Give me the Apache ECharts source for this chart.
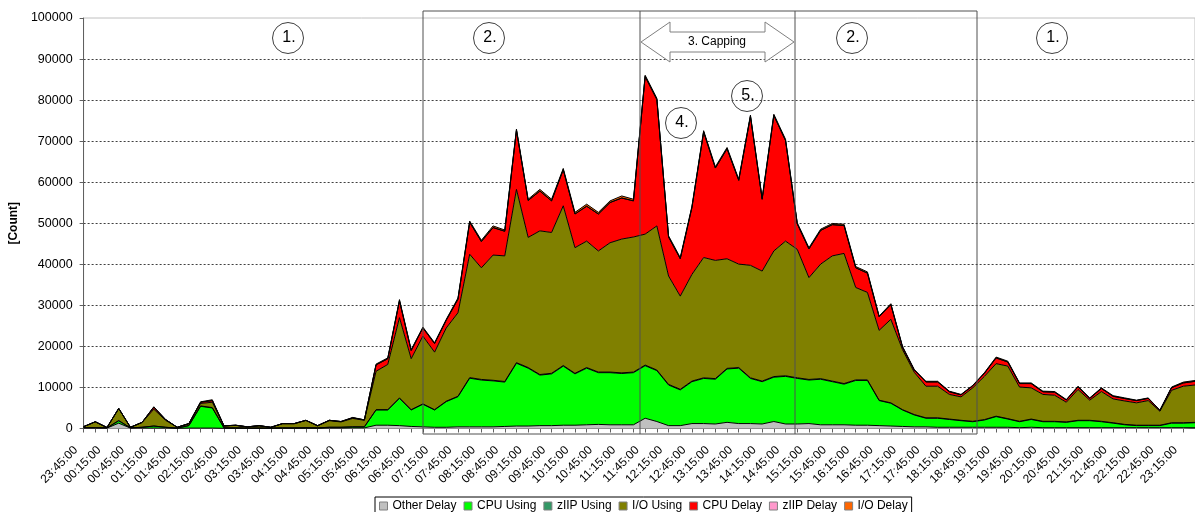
<!DOCTYPE html>
<html>
<head>
<meta charset="utf-8">
<script src="https://cdn.jsdelivr.net/npm/echarts@6.0.0/dist/echarts.min.js"></script>
<style>
  html, body { margin: 0; padding: 0; background: #fff; }
  #main { width: 1195px; height: 512px; }
</style>
</head>
<body>
<div id="main"></div>
<script>
var times = [
  '23:45:00','00:00:00','00:15:00','00:30:00','00:45:00','01:00:00','01:15:00','01:30:00','01:45:00','02:00:00','02:15:00','02:30:00',
  '02:45:00','03:00:00','03:15:00','03:30:00','03:45:00','04:00:00','04:15:00','04:30:00','04:45:00','05:00:00','05:15:00','05:30:00',
  '05:45:00','06:00:00','06:15:00','06:30:00','06:45:00','07:00:00','07:15:00','07:30:00','07:45:00','08:00:00','08:15:00','08:30:00',
  '08:45:00','09:00:00','09:15:00','09:30:00','09:45:00','10:00:00','10:15:00','10:30:00','10:45:00','11:00:00','11:15:00','11:30:00',
  '11:45:00','12:00:00','12:15:00','12:30:00','12:45:00','13:00:00','13:15:00','13:30:00','13:45:00','14:00:00','14:15:00','14:30:00',
  '14:45:00','15:00:00','15:15:00','15:30:00','15:45:00','16:00:00','16:15:00','16:30:00','16:45:00','17:00:00','17:15:00','17:30:00',
  '17:45:00','18:00:00','18:15:00','18:30:00','18:45:00','19:00:00','19:15:00','19:30:00','19:45:00','20:00:00','20:15:00','20:30:00',
  '20:45:00','21:00:00','21:15:00','21:30:00','21:45:00','22:00:00','22:15:00','22:30:00','22:45:00','23:00:00','23:15:00','23:30:00'
];

var otherDelay = [
  100,100,100,1300,100,100,100,100,50,100,100,100,
  50,50,50,50,50,50,50,50,50,100,100,150,
  150,800,800,700,500,400,300,300,400,400,400,400,
  500,600,600,700,700,800,800,900,1000,900,900,900,
  2500,1700,700,700,1200,1200,1100,1500,1200,1200,1100,1700,
  1100,1100,1200,900,900,900,800,800,700,600,500,400,
  400,300,300,300,300,300,300,300,200,300,200,200,
  200,200,200,200,200,200,200,200,200,200,200,200
];
var cpuUsing = [
  100,100,50,550,50,200,500,200,50,600,5300,4900,
  100,100,50,50,50,100,100,150,100,200,200,250,
  250,3700,3700,6650,4000,5500,4200,6250,7350,11850,11400,11200,
  10800,15300,14100,12300,12600,14400,12500,13800,12600,12700,12500,12700,
  12800,12400,9900,8700,10200,11000,10900,13000,13500,11000,10300,10800,
  11600,11100,10600,11100,10500,9900,10900,10900,6100,5550,4000,2900,
  2100,2200,1900,1600,1350,1770,2600,2000,1450,1900,1450,1450,
  1300,1700,1700,1450,1100,700,500,500,500,1100,1100,1200
];
var ziipUsing = [
  0,0,0,100,0,0,0,0,0,0,100,100,
  0,0,0,0,0,0,0,0,0,0,0,0,
  0,100,100,100,100,100,100,100,100,150,150,150,
  150,150,150,150,150,150,150,150,150,150,150,150,
  150,150,150,150,150,150,150,150,150,150,150,150,
  150,150,150,150,150,150,150,150,100,100,100,100,
  100,100,100,100,100,100,100,100,100,100,100,100,
  100,100,100,100,100,100,100,100,100,100,100,100
];
var ioUsing = [
  250,1400,100,2900,150,1150,4100,1700,200,450,600,1300,
  450,600,300,550,200,1000,1000,1750,500,1600,1300,2050,
  1600,9350,11000,19550,12400,16500,14000,17850,20350,30050,27200,30500,
  30600,42200,31700,35000,34300,38900,30600,30800,29500,31500,32600,32900,
  31900,35100,26400,22700,26000,29300,28800,26700,25200,27400,26800,30600,
  32800,31300,24800,27900,30500,31700,22500,21300,17000,20350,14600,10300,
  7700,7700,6000,5700,8150,10530,12800,12800,8350,7600,6550,6350,
  4800,7500,4900,7250,5800,5700,5450,6000,3400,7900,8900,9100
];
var cpuDelay = [
  0,50,0,50,0,50,500,200,0,50,300,400,
  50,50,0,50,0,50,50,50,50,100,100,150,
  100,1550,1400,4100,2000,2000,2100,1900,3300,7800,6400,6700,
  6000,14400,9000,9700,7700,8800,8200,8500,9000,9800,10000,8800,
  38400,30800,9500,9100,16300,30600,22500,26800,20400,36300,17500,33000,
  24500,6200,7000,8200,7600,6800,4800,4700,3300,3600,600,550,
  1050,1050,650,500,500,750,1400,1000,850,1050,650,750,
  550,650,450,750,650,600,550,550,200,650,800,900
];
var ziipDelay = [
  0,0,0,0,0,0,0,0,0,0,0,0,
  0,0,0,0,0,0,0,0,0,0,0,0,
  0,0,0,0,0,0,0,0,0,0,0,0,
  0,0,0,0,0,0,0,0,0,0,0,0,
  0,0,0,0,0,0,0,0,0,0,0,0,
  0,0,0,0,0,0,0,0,0,0,0,0,
  0,0,0,0,0,0,0,0,0,0,0,0,
  0,0,0,0,0,0,0,0,0,0,0,0
];
var ioDelay = [
  0,0,0,0,0,0,100,0,0,0,100,200,
  0,0,0,0,0,0,0,0,0,0,0,100,
  0,200,200,300,200,200,200,200,300,300,300,400,
  300,300,300,400,400,300,400,500,400,400,500,400,
  300,300,300,300,300,300,300,300,300,300,300,300,
  300,300,300,300,300,300,300,300,200,200,200,150,
  150,150,150,100,100,150,200,200,150,150,150,150,
  100,150,100,150,150,150,100,100,50,150,200,200
];

var seriesDefs = [
  { name: 'Other Delay', color: '#C0C0C0', data: otherDelay },
  { name: 'CPU Using',   color: '#00FF00', data: cpuUsing },
  { name: 'zIIP Using',  color: '#339966', data: ziipUsing },
  { name: 'I/O Using',   color: '#808000', data: ioUsing },
  { name: 'CPU Delay',   color: '#FF0000', data: cpuDelay },
  { name: 'zIIP Delay',  color: '#FF99CC', data: ziipDelay },
  { name: 'I/O Delay',   color: '#FF6600', data: ioDelay }
];

var font = 'Liberation Sans, Arial, sans-serif';
var myChart = echarts.init(document.getElementById('main'));

// numbered circles drawn on the chart
function marker(cx, cy, label) {
  return {
    type: 'group',
    z: 100,
    children: [
      { type: 'circle', shape: { cx: cx, cy: cy, r: 15.5 },
        style: { fill: '#fff', stroke: '#404040', lineWidth: 1 } },
      { type: 'text', x: cx + 1, y: cy,
        style: { text: label, fontSize: 16, fontFamily: font, fill: '#000',
                 align: 'center', verticalAlign: 'middle' } }
    ]
  };
}

option = {
    animation: false,
    backgroundColor: '#fff',
    grid: {
        left: 82,
        top: 18,
        width: 1121,
        height: 410.5,
        show: true,
        borderColor: '#c0c0c0',
        borderWidth: 1
    },
    legend: {
        data: seriesDefs.map(function (s) { return s.name; }),
        left: 375,
        top: 497,
        icon: 'rect',
        itemWidth: 8,
        itemHeight: 8,
        itemGap: 7,
        padding: [3, 4, 8, 4],
        borderColor: '#000',
        borderWidth: 1,
        textStyle: { fontSize: 12, fontFamily: font, color: '#000' },
        itemStyle: { borderColor: '#808080', borderWidth: 1 }
    },
    xAxis: {
        type: 'category',
        boundaryGap: false,
        data: times,
        axisLine: { lineStyle: { color: '#606060', width: 1 } },
        axisTick: { interval: 0, length: 4, lineStyle: { color: '#606060' } },
        axisLabel: {
            interval: 1,
            rotate: 45,
            margin: 12,
            padding: [0, 11, 0, 0],
            fontSize: 12,
            fontFamily: font,
            color: '#000'
        },
        splitLine: { show: false }
    },
    yAxis: {
        type: 'value',
        min: 0,
        max: 100000,
        interval: 10000,
        name: '[Count]',
        nameLocation: 'middle',
        nameRotate: 90,
        nameGap: 57,
        nameTextStyle: { fontSize: 12, fontWeight: 'bold', fontFamily: font, color: '#000' },
        axisLine: { show: true, lineStyle: { color: '#606060', width: 1 } },
        axisTick: { show: true, length: 4, lineStyle: { color: '#606060' } },
        axisLabel: {
            fontSize: 12.5, fontFamily: font, color: '#000', margin: 11,
            formatter: function (v) { return String(v); }
        },
        splitLine: {
            show: true,
            showMinLine: false,
            showMaxLine: false,
            lineStyle: { color: '#404040', type: [2, 2], width: 1 }
        }
    },
    series: seriesDefs.map(function (s) {
        return {
            name: s.name,
            type: 'line',
            stack: 'total',
            data: s.data,
            symbol: 'none',
            color: s.color,
            itemStyle: { color: s.color },
            lineStyle: { color: '#000', width: 1 },
            areaStyle: { color: s.color, opacity: 1 }
        };
    }),
    graphic: [
        // phase frame
        { type: 'rect', z: 90, shape: { x: 423, y: 11, width: 554, height: 423 },
          style: { fill: 'none', stroke: '#505050', lineWidth: 1 } },
        { type: 'line', z: 90, shape: { x1: 640, y1: 11, x2: 640, y2: 434 },
          style: { stroke: '#505050', lineWidth: 1 } },
        { type: 'line', z: 90, shape: { x1: 795, y1: 11, x2: 795, y2: 434 },
          style: { stroke: '#505050', lineWidth: 1 } },
        // capping arrow
        { type: 'polygon', z: 95,
          shape: { points: [[641, 42], [670, 22], [670, 32], [765, 32], [765, 22], [794, 42],
                            [765, 62], [765, 52], [670, 52], [670, 62]] },
          style: { fill: '#fff', stroke: '#808080', lineWidth: 1 } },
        { type: 'text', z: 96, x: 717, y: 42,
          style: { text: '3. Capping', fontSize: 12, fontFamily: font, fill: '#000',
                   align: 'center', verticalAlign: 'middle' } },
        marker(288, 38, '1.'),
        marker(489, 38, '2.'),
        marker(852, 38, '2.'),
        marker(1052, 38, '1.'),
        marker(681, 123, '4.'),
        marker(747, 96, '5.')
    ]
};

myChart.setOption(option);
</script>
</body>
</html>
